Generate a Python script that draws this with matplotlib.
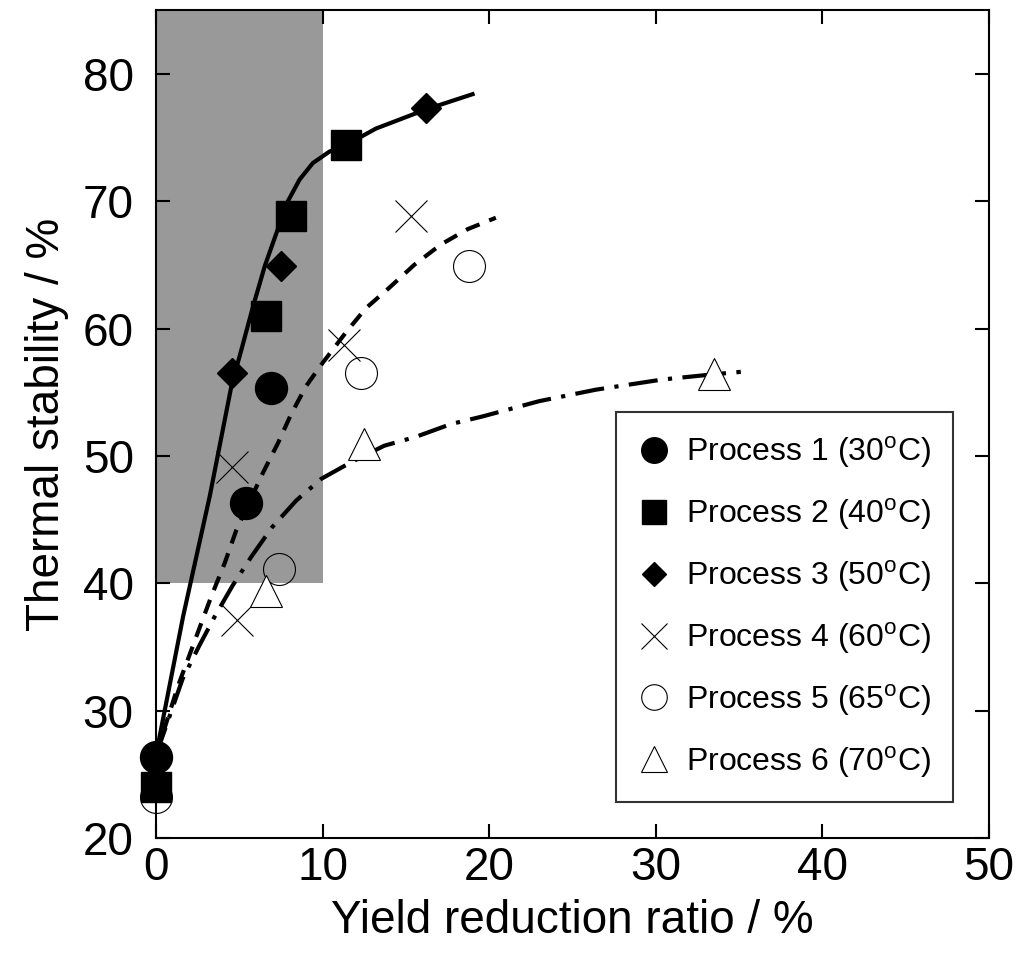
import numpy as np
import matplotlib
matplotlib.use("Agg")
import matplotlib.pyplot as plt

plt.rcParams["font.family"] = ["Liberation Sans", "DejaVu Sans"]
plt.rcParams["mathtext.fontset"] = "custom"
plt.rcParams["mathtext.rm"] = "Liberation Sans"

# measured points (yield reduction ratio %, thermal stability %)
p1_x = [0, 5.4, 6.9]
p1_y = [26.4, 46.3, 55.3]
p2_x = [0, 6.6, 8.1, 11.4]
p2_y = [24.0, 61.0, 68.8, 74.4]
p3_x = [4.55, 7.5, 16.2]
p3_y = [56.5, 64.9, 77.3]
p4_x = [4.85, 4.55, 11.3, 15.3]
p4_y = [37.1, 49.1, 58.7, 68.8]
p5_x = [0, 7.4, 12.3, 18.8]
p5_y = [23.2, 41.1, 56.5, 64.9]
p6_x = [6.6, 12.5, 33.5]
p6_y = [39.4, 50.9, 56.4]

# fitted curves
solid_x = [0, 1.63, 3.23, 4.53, 5.13, 5.83, 6.53, 7.23, 7.92, 8.62, 9.42, 10.42, 11.4, 13.2, 16.2, 19.0]
solid_y = [26.5, 37.4, 46.85, 55.5, 58.35, 61.75, 64.9, 67.5, 70.0, 71.7, 73.0, 73.9, 74.4, 75.7, 77.2, 78.4]
dash_x = [0, 1.34, 2.73, 3.33, 4.13, 4.83, 6.43, 7.32, 8.12, 9.02, 10.0, 11.4, 12.6, 14.0, 15.5, 17.1, 18.7, 20.4]
dash_y = [26.5, 32.0, 36.9, 39.0, 41.6, 44.2, 48.7, 51.0, 53.3, 55.5, 57.3, 59.7, 61.6, 63.2, 65.0, 66.6, 67.8, 68.7]
dd_x = [0, 1.6, 2.6, 3.53, 4.59, 5.73, 6.97, 8.42, 9.92, 11.7, 13.7, 15.6, 17.7, 19.6, 23.0, 26.4, 30.4, 33.4, 35.1]
dd_y = [26.5, 32.5, 35.1, 37.4, 39.8, 42.1, 44.4, 46.5, 48.2, 49.5, 50.8, 51.5, 52.5, 53.1, 54.3, 55.2, 56.0, 56.4, 56.6]

labels = ["Process 1 (30$^{\\mathrm{o}}$C)", "Process 2 (40$^{\\mathrm{o}}$C)",
          "Process 3 (50$^{\\mathrm{o}}$C)", "Process 4 (60$^{\\mathrm{o}}$C)",
          "Process 5 (65$^{\\mathrm{o}}$C)", "Process 6 (70$^{\\mathrm{o}}$C)"]

fig = plt.figure(figsize=(10.16, 9.56), dpi=100)
ax = fig.add_axes([0.1535, 0.1234, 0.82, 0.866])

# shaded target region
ax.fill_between([0, 10], 40, 85, color="#999999", lw=0, zorder=0)

ax.plot(solid_x, solid_y, "-", color="black", lw=3, zorder=2, clip_on=False)
ax.plot(dash_x, dash_y, color="black", lw=3, dashes=(3.5, 2.5), zorder=2, clip_on=False)
ax.plot(dd_x, dd_y, color="black", lw=3, dashes=(7, 2.5, 1, 2.5), zorder=2, clip_on=False)

ax.plot(p5_x, p5_y, "o", ms=23, mfc="none", mec="black", mew=0.8, ls="none", label=labels[4], zorder=3, clip_on=False)
ax.plot(p1_x, p1_y, "o", ms=23, color="black", ls="none", label=labels[0], zorder=3, clip_on=False)
ax.plot(p2_x, p2_y, "s", ms=22, color="black", ls="none", label=labels[1], zorder=3, clip_on=False)
ax.plot(p3_x, p3_y, "D", ms=15, color="black", ls="none", label=labels[2], zorder=3, clip_on=False)
ax.plot(p4_x, p4_y, "x", ms=23, color="black", mew=0.8, ls="none", label=labels[3], zorder=3, clip_on=False)
ax.plot(p6_x, p6_y, "^", ms=23, mfc="white", mec="black", mew=0.8, ls="none", label=labels[5], zorder=3, clip_on=False)

ax.set_xlim(0, 50)
ax.set_ylim(20, 85)
ax.set_xticks([0, 10, 20, 30, 40, 50])
ax.set_yticks([20, 30, 40, 50, 60, 70, 80])
ax.tick_params(direction="in", length=10, width=1.5, top=True, right=True, labelsize=33)
ax.tick_params(axis="y", pad=16)
ax.tick_params(axis="x", pad=6)
for s in ax.spines.values():
    s.set_linewidth(1.5)

ax.set_xlabel("Yield reduction ratio / %", fontsize=33, labelpad=6)
ax.set_ylabel("Thermal stability / %", fontsize=33, labelpad=10)

h, l = ax.get_legend_handles_labels()
order = [1, 2, 3, 4, 0, 5]
leg = ax.legend([h[i] for i in order], [l[i] for i in order], loc="lower right",
                bbox_to_anchor=(0.957, 0.0435), fontsize=23, frameon=True, fancybox=False,
                edgecolor="black", markerscale=0.8, handlelength=1.0, handletextpad=0.5,
                labelspacing=0.82, borderpad=0.7, borderaxespad=0)
leg.get_frame().set_linewidth(1.5)

fig.savefig("out.png", dpi=100)
